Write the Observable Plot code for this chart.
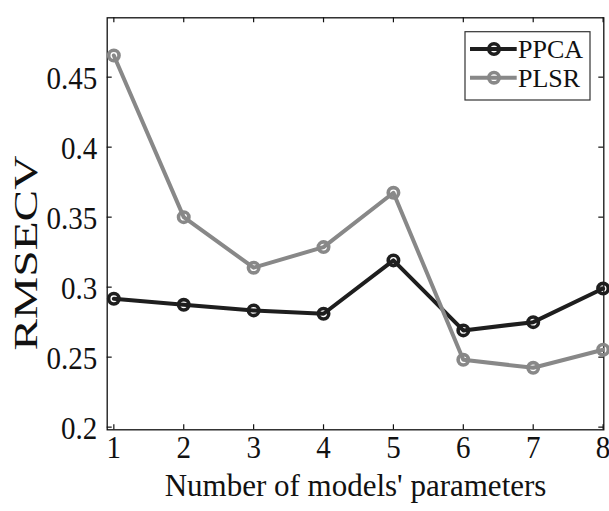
<!DOCTYPE html>
<html>
<head>
<meta charset="utf-8">
<script src="https://cdn.jsdelivr.net/npm/d3@7"></script>
<script src="https://cdn.jsdelivr.net/npm/@observablehq/plot@0.6"></script>
<style>
  html, body { margin: 0; padding: 0; background: white; }
</style>
</head>
<body>
<div id="chart"></div>
<script>
const xValues = [1, 2, 3, 4, 5, 6, 7, 8];
const ppcaValues = [0.2917, 0.2874, 0.2834, 0.2810, 0.3191, 0.2691, 0.2750, 0.2990];
const plsrValues = [0.4655, 0.3500, 0.3139, 0.3286, 0.3674, 0.2481, 0.2424, 0.2553];
const seriesNames = ["PPCA", "PLSR"];
const seriesColors = ["#1e1e1e", "#888888"];
const xTicks = [1, 2, 3, 4, 5, 6, 7, 8];
const yTicks = [0.2, 0.25, 0.3, 0.35, 0.4, 0.45];
const yTickLabels = ["0.2", "0.25", "0.3", "0.35", "0.4", "0.45"];
const xLabel = "Number of models' parameters";
const yLabel = "RMSECV";

const data = [
  ...xValues.map((x, i) => ({x, y: ppcaValues[i], s: seriesNames[0]})),
  ...xValues.map((x, i) => ({x, y: plsrValues[i], s: seriesNames[1]}))
];

const W = 609, H = 511;
const mL = 106.7, mR = 5.7, mT = 17.3, mB = 81.7;
const pw = W - mL - mR, ph = H - mT - mB;
const tick = 5;
const font = "Liberation Serif";

const chart = Plot.plot({
  width: W, height: H,
  marginLeft: mL, marginRight: mR, marginTop: mT, marginBottom: mB,
  style: {fontFamily: font, fontSize: "29px", color: "black", background: "white", overflow: "visible"},
  x: {domain: [0.905, 8.01], axis: null},
  y: {domain: [0.1981, 0.4924], axis: null},
  color: {domain: seriesNames, range: seriesColors},
  marks: [
    Plot.frame({stroke: "#111", strokeWidth: 1.3}),
    Plot.tickX(xTicks, {x: d => d, insetTop: ph - tick, stroke: "#111", strokeWidth: 1.2}),
    Plot.tickX(xTicks, {x: d => d, insetBottom: ph - tick, stroke: "#111", strokeWidth: 1.2}),
    Plot.tickY(yTicks, {y: d => d, insetRight: pw - tick, stroke: "#111", strokeWidth: 1.2}),
    Plot.tickY(yTicks, {y: d => d, insetLeft: pw - tick, stroke: "#111", strokeWidth: 1.2}),
    Plot.text(xTicks, {x: d => d, frameAnchor: "bottom", dy: 28, text: d => String(d), fontSize: 29, fontFamily: font, fill: "#111", className: "tl"}),
    Plot.text(yTicks, {y: d => d, frameAnchor: "left", dx: -10, dy: 2, textAnchor: "end", text: (d, i) => yTickLabels[i], fontSize: 29, fontFamily: font, fill: "#111", className: "tl"}),
    Plot.text([xLabel], {frameAnchor: "bottom", dy: 66, text: d => d, fontSize: 31, fontFamily: font, fill: "#111"}),
    Plot.text([yLabel], {frameAnchor: "left", rotate: -90, textAnchor: "start", dx: -80.7, dy: 126.7, text: d => d, fontSize: 33, fontFamily: font, fill: "#111", className: "ylab"}),
    Plot.line(data, {x: "x", y: "y", z: "s", stroke: "s", strokeWidth: 4}),
    Plot.dot(data, {x: "x", y: "y", stroke: "s", r: 5.2, strokeWidth: 3.6, fill: "none"})
  ]
});

document.getElementById("chart").appendChild(chart);

const svg = d3.select(chart);
svg.selectAll("g.ylab text").attr("textLength", 195).attr("lengthAdjust", "spacingAndGlyphs");
svg.selectAll("g.tl text").attr("transform", function() {
  return (this.getAttribute("transform") || "") + " scale(1,1.08)";
});

// legend
const lg = svg.append("g").attr("text-anchor", "start");
lg.append("rect").attr("x", 465).attr("y", 31.7).attr("width", 125).attr("height", 68.3)
  .attr("fill", "white").attr("stroke", "#333").attr("stroke-width", 1.2);
const rowsY = [49, 77.7];
seriesNames.forEach((name, i) => {
  const y = rowsY[i];
  lg.append("line").attr("x1", 470).attr("x2", 516.7).attr("y1", y).attr("y2", y)
    .attr("stroke", seriesColors[i]).attr("stroke-width", 4);
  lg.append("circle").attr("cx", 494).attr("cy", y).attr("r", 5.2)
    .attr("fill", "none").attr("stroke", seriesColors[i]).attr("stroke-width", 3.6);
  lg.append("text").attr("x", 518).attr("y", y + 9).attr("font-size", 26)
    .attr("text-anchor", "start")
    .attr("font-family", font).attr("fill", "#111").text(name);
});
</script>
</body>
</html>
